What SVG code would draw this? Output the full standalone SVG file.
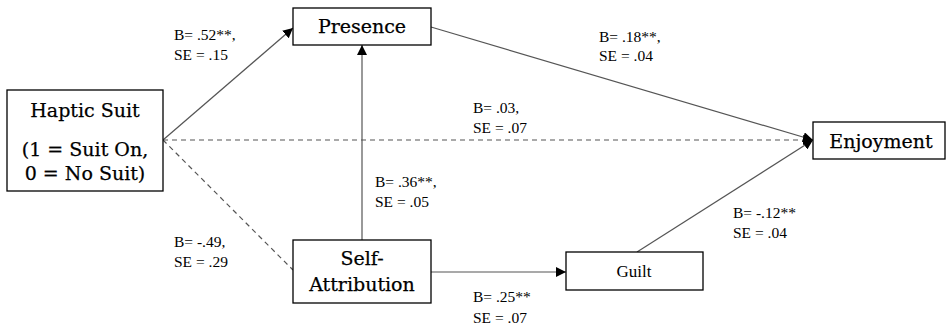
<svg xmlns="http://www.w3.org/2000/svg" width="948" height="327" viewBox="0 0 948 327">
<style>
.box{fill:#fff;stroke:#000;stroke-width:1.3}
.node{font-family:"DejaVu Serif","Liberation Serif",serif;font-size:19px;fill:#000;text-anchor:middle;stroke:#000;stroke-width:0.25}
.lab{font-family:"Liberation Serif",serif;font-size:15.5px;fill:#000}
.ln{stroke:#555;stroke-width:1.2;fill:none}
.dash{stroke-dasharray:5,4}
</style>
<defs>
<marker id="arr" viewBox="0 0 10 10" refX="10" refY="5" markerWidth="10" markerHeight="10" markerUnits="userSpaceOnUse" orient="auto">
<path d="M0,0 L10,5 L0,10 z" fill="#000"/>
</marker>
</defs>
<g id="connectors">
<line class="ln" x1="163" y1="140" x2="293" y2="28" marker-end="url(#arr)"/>
<line class="ln dash" x1="163" y1="140" x2="813" y2="140" marker-end="url(#arr)"/>
<line class="ln dash" x1="163" y1="140" x2="293" y2="270"/>
<line class="ln" x1="362" y1="240" x2="362" y2="45" marker-end="url(#arr)"/>
<line class="ln" x1="431" y1="27" x2="813" y2="140" marker-end="url(#arr)"/>
<line class="ln" x1="431" y1="272" x2="566" y2="272" marker-end="url(#arr)"/>
<line class="ln" x1="637" y1="252" x2="813" y2="140" marker-end="url(#arr)"/>
</g>
<g id="haptic">
<rect class="box" x="7" y="90" width="156" height="101"/>
<text class="node" x="85" y="117">Haptic Suit</text>
<text class="node" x="85" y="156">(1 = Suit On,</text>
<text class="node" x="85" y="180">0 = No Suit)</text>
</g>
<g id="presence">
<rect class="box" x="293" y="8" width="138" height="37"/>
<text class="node" x="362" y="33">Presence</text>
</g>
<g id="selfattr">
<rect class="box" x="293" y="240" width="138" height="63"/>
<text class="node" x="362" y="265">Self-</text>
<text class="node" x="362" y="291">Attribution</text>
</g>
<g id="guilt">
<rect class="box" x="566" y="252" width="137" height="38"/>
<text x="634" y="277" style="font-family:'Liberation Serif',serif;font-size:17px;text-anchor:middle">Guilt</text>
</g>
<g id="enjoyment">
<rect class="box" x="813" y="122" width="132" height="37"/>
<text class="node" x="881" y="148">Enjoyment</text>
</g>
<g id="labels">
<text class="lab" x="174" y="40">B= .52**,</text>
<text class="lab" x="174" y="60">SE = .15</text>
<text class="lab" x="599" y="42">B=  .18**,</text>
<text class="lab" x="599" y="61">SE = .04</text>
<text class="lab" x="473" y="113">B= .03,</text>
<text class="lab" x="473" y="133">SE = .07</text>
<text class="lab" x="375" y="187">B= .36**,</text>
<text class="lab" x="375" y="207">SE = .05</text>
<text class="lab" x="174" y="247">B= -.49,</text>
<text class="lab" x="174" y="267">SE = .29</text>
<text class="lab" x="473" y="302">B= .25**</text>
<text class="lab" x="473" y="323">SE = .07</text>
<text class="lab" x="733" y="218">B= -.12**</text>
<text class="lab" x="733" y="238">SE = .04</text>
</g>
</svg>
